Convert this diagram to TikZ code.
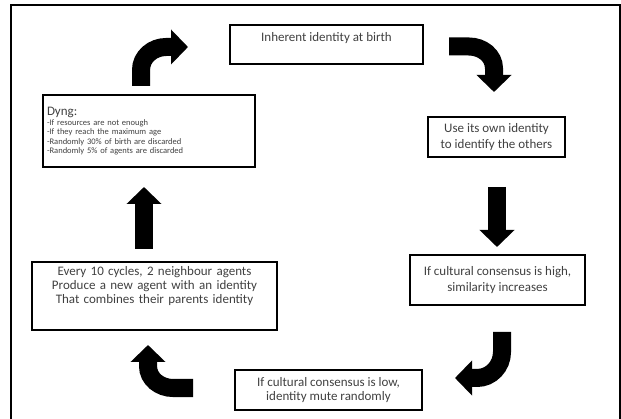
\documentclass[tikz,border=0pt]{standalone}
\usepackage{fontspec}
\setmainfont{Carlito}
\usetikzlibrary{arrows.meta, positioning}

\begin{document}
\begin{tikzpicture}[x=1pt, y=-1pt, >=Stealth]
        % styles
        \tikzstyle{box} = [draw, line width=1.6pt, rectangle, align=center, text=black!75, inner sep=3pt, font=\fontsize{13}{15}\selectfont]
        \tikzstyle{bigarrow} = [line width=18pt, -{Triangle[width=34pt,length=17pt]}]
        \tikzstyle{coord} = [coordinate]

        \useasboundingbox (0,0) rectangle (621,419);
        \draw[line width=1.5pt] (11,419) -- (11,5) -- (620,5) -- (620,419);

        % boxes
        \node[box, anchor=north, minimum width=193, text height=13, text depth=18, inner ysep=4] (birth) at (326.5,24) {Inherent identity at birth};
        \node[box, minimum width=137, minimum height=40, font=\fontsize{13}{16.5}\selectfont] (use) at (496.5,137) {Use its own identity\\to identify the others};
        \node[box, minimum width=175, minimum height=50, font=\fontsize{13}{16.5}\selectfont] (high) at (497.5,280) {If cultural consensus is high,\\similarity increases};
        \node[box, minimum width=187, minimum height=40, font=\fontsize{13}{14.5}\selectfont] (low) at (328.5,390) {If cultural consensus is low,\\identity mute randomly};
        \node[box, anchor=north, minimum width=245, text width=238, text height=10, text depth=50, inner ysep=4, font=\fontsize{13}{14}\selectfont] (birthrule) at (154.5,261) {Every 10 cycles, 2 neighbour agents\\Produce a new agent with an identity\\That combines their parents identity};
        \node[box, minimum width=212, minimum height=72, text width=204, align=left, font=\fontsize{8.5}{9.3}\selectfont] (dying) at (149,131) {{\fontsize{13}{14}\selectfont Dyng:}\\[1pt]-If resources are not enough\\-If they reach the maximum age\\-Randomly 30\% of birth are discarded\\-Randomly 5\% of agents are discarded};

        % arrow ends
        \node[coord] (a1s) at (141,86) {};
        \node[coord] (a1e) at (188,47) {};
        \node[coord] (a2s) at (449,46.5) {};
        \node[coord] (a2e) at (494,92) {};
        \node[coord] (a3s) at (497,187) {};
        \node[coord] (a3e) at (497,247) {};
        \node[coord] (a4s) at (502,332) {};
        \node[coord] (a4e) at (455,378) {};
        \node[coord] (a5s) at (193,388) {};
        \node[coord] (a5e) at (148,345) {};
        \node[coord] (a6s) at (144,249) {};
        \node[coord] (a6e) at (144,187) {};

        % arrows
        \draw[bigarrow] (a1s) -- ++(0,-16) to[out=90,in=180] ++(25,-23) -- (a1e);
        \draw[bigarrow] (a2s) -- ++(20,0) to[out=0,in=90] ++(25,22) -- (a2e);
        \draw[bigarrow] (a3s) -- (a3e);
        \draw[bigarrow] (a4s) -- ++(0,20) to[out=-90,in=0] ++(-25,26) -- (a4e);
        \draw[bigarrow] (a5s) -- ++(-20,0) to[out=180,in=-90] ++(-25,-22) -- (a5e);
        \draw[bigarrow] (a6s) -- (a6e);
\end{tikzpicture}
\end{document}
